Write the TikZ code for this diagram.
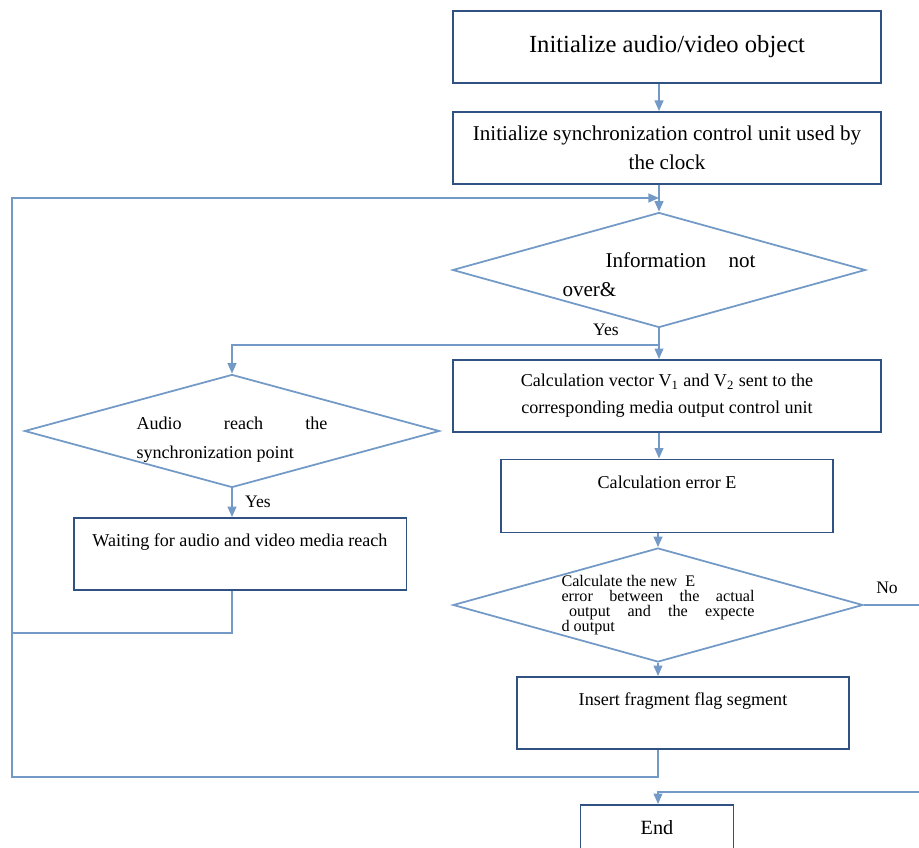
\documentclass[tikz,border=0pt]{standalone}
\usepackage{fontspec}
\setmainfont{Liberation Serif}
\usepackage{xcolor}
\usetikzlibrary{arrows.meta, positioning, shapes.geometric}

\definecolor{boxblue}{HTML}{2F5282}
\definecolor{lineblue}{HTML}{7399C6}

\begin{document}
\begin{tikzpicture}[x=0.02cm, y=-0.02cm, >={Triangle[length=6pt,width=5pt]},
    stepbox/.style={rectangle, draw=boxblue, line width=1.1pt, fill=white, inner sep=0pt, align=center, minimum height=1.44cm},
    decision/.style={diamond, draw=lineblue, line width=1pt, inner xsep=0pt, inner ysep=-4pt, shape aspect=3.6, text width=3.86cm, align=justify},
    flow/.style={draw=lineblue, line width=1pt},
    tag/.style={font=\fontsize{10}{12}\selectfont}]
    \clip (0,0) rectangle (919,848);

    \node[stepbox, minimum width=8.56cm, font=\fontsize{14}{16}\selectfont] (init) at (667,47) {Initialize audio/video object};
    \node[stepbox, minimum width=8.56cm, font=\fontsize{12}{16.4}\selectfont] (sync) at (667,148) {Initialize synchronization control unit used by\\the clock};
    \node[decision, minimum width=8.26cm, minimum height=2.3cm, font=\fontsize{12}{16.4}\selectfont] (info) at (659,270) {\hspace*{0.86cm}\rule{0pt}{14.2pt}Information not\linebreak over\&};
    \node[stepbox, minimum width=8.56cm, font=\fontsize{10.3}{15.3}\selectfont] (calc) at (667,396) {Calculation vector V\textsubscript{1} and V\textsubscript{2} sent to the\\corresponding media output control unit};
    \node[decision, minimum width=8.3cm, minimum height=2.26cm, text width=3.82cm, font=\fontsize{10.3}{16.4}\selectfont] (audio) at (232,431) {\rule{0pt}{17.3pt}Audio reach the\linebreak synchronization point};
    \node[stepbox, minimum width=6.66cm, font=\fontsize{10.3}{15.3}\selectfont] (wait) at (240,554) {Waiting for audio and video media reach\\\mbox{}};
    \node[stepbox, minimum width=6.64cm, minimum height=1.46cm, font=\fontsize{10.3}{15.3}\selectfont] (err) at (667,496) {Calculation error E\\\mbox{}};
    \node[decision, minimum width=8.2cm, minimum height=2.28cm, font=\fontsize{9.2}{8.6}\selectfont] (check) at (658,605) {Calculate the new~~E\\error between the actual\linebreak \hspace*{0.15cm}output and the expecte\linebreak d output};
    \node[stepbox, minimum width=6.64cm, font=\fontsize{10.3}{15.3}\selectfont] (flag) at (683,713) {Insert fragment flag segment\\\mbox{}};
    \node[stepbox, minimum width=3.06cm, minimum height=0.92cm, font=\fontsize{11.5}{14}\selectfont] (end) at (657,828) {End};

    % loop corners and free ends
    \coordinate (looptop) at (12,198);
    \coordinate (loopmid) at (12,633);
    \coordinate (loopbot) at (12,777);
    \coordinate (split) at (659,345);
    \coordinate (noexit) at (919,605);
    \coordinate (endin) at (919,792);

    \draw[flow, ->] (init.south -| info.north) -- (sync.north -| info.north);
    \draw[flow, ->] (sync.south -| info.north) -- (info.north);
    \draw[flow, ->] (info.south) -- (calc.north -| info.south);
    \draw[flow, ->] (split) -| (audio.north);
    \draw[flow, ->] (audio.south) -- (wait.north -| audio.south);
    \draw[flow, ->] (calc.south -| info.south) -- (err.north -| info.south);
    \draw[flow, ->] (err.south -| check.north) -- (check.north);
    \draw[flow, ->] (check.south) -- (flag.north -| check.south);
    \draw[flow] (check.east) -- (noexit);
    \draw[flow] (wait.south -| audio.south) |- (loopmid);
    \draw[flow, ->] (flag.south -| check.south) |- (loopbot) -- (looptop) -- (looptop -| info.north);
    \draw[flow, ->] (endin) -| (end.north -| check.south);

    \node[tag] (yesinfo) at (606,330) {Yes};
    \node[tag] (yesaudio) at (258,502) {Yes};
    \node[tag] (nocheck) at (887,588) {No};
\end{tikzpicture}
\end{document}
